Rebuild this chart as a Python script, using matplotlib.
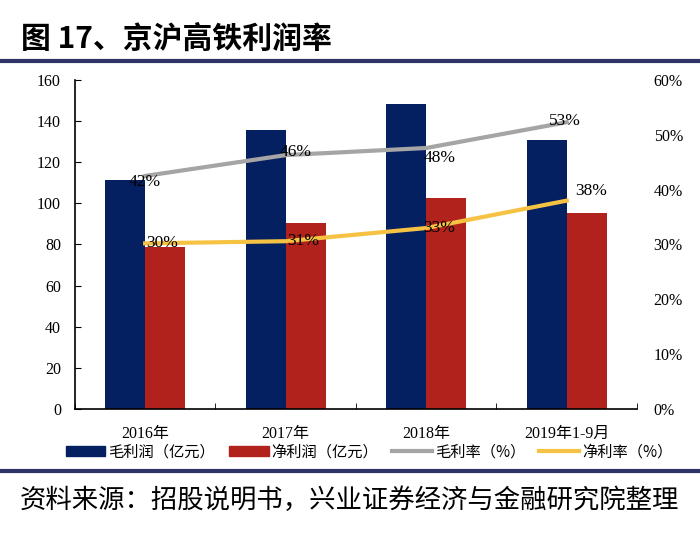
import matplotlib.pyplot as plt
import numpy as np
from matplotlib.patches import Patch
from matplotlib.lines import Line2D

plt.rcParams['font.family'] = ['Liberation Serif', 'Noto Sans CJK SC']

# data
categories = ["2016年", "2017年", "2018年", "2019年1-9月"]
gross_profit = [111.2, 135.8, 148.4, 130.9]   # 毛利润（亿元）
net_profit = [78.8, 90.5, 102.4, 95.2]        # 净利润（亿元）
gross_margin = [42.5, 46.3, 47.6, 52.3]       # 毛利率（%）
net_margin = [30.2, 30.6, 33.0, 38.0]         # 净利率（%）
gross_labels = ["42%", "46%", "48%", "53%"]
net_labels = ["30%", "31%", "33%", "38%"]

blue = "#042060"
red = "#B2221C"
grey = "#A5A5A5"
yellow = "#F6C243"

fig = plt.figure(figsize=(7, 5.38), dpi=100)
ax = fig.add_axes([0.107, 0.2398, 0.803, 0.6115])
ax2 = ax.twinx()

x = np.arange(len(categories))
w = 0.285
ax.bar(x - w / 2, gross_profit, w, color=blue, zorder=2)
ax.bar(x + w / 2, net_profit, w, color=red, zorder=2)

ax.set_xlim(-0.5, 3.5)
ax.set_ylim(0, 160)
ax.set_yticks(range(0, 161, 20))
ax.set_xticks(x)
ax.set_xticklabels(categories, fontsize=11.5)
ax.set_xticks(np.arange(-0.5, 3.6, 1), minor=True)
ax.tick_params(axis='x', which='major', length=0, pad=12)
ax.tick_params(axis='x', which='minor', direction='in', length=4)
ax.tick_params(axis='y', direction='in', length=4, labelsize=11.5, pad=10)
for s in ['top', 'right']:
    ax.spines[s].set_visible(False)
ax.spines['left'].set_linewidth(1.2)
ax.spines['bottom'].set_linewidth(1.2)

ax2.plot(x, gross_margin, color=grey, lw=3, zorder=3)
ax2.plot(x, net_margin, color=yellow, lw=3, zorder=3)
ax2.set_ylim(0, 60)
ax2.set_yticks(range(0, 61, 10))
ax2.set_yticklabels([f"{v}%" for v in range(0, 61, 10)])
ax2.tick_params(axis='y', length=0, labelsize=11.5, pad=12)
for s in ['top', 'right', 'left', 'bottom']:
    ax2.spines[s].set_visible(False)

gross_off = [(0, -6), (10, 3), (13, -10), (-2, 1)]
net_off = [(17, 0), (18, 0), (13, 0), (24, 10)]
for i in range(len(x)):
    ax2.annotate(gross_labels[i], (x[i], gross_margin[i]), xytext=gross_off[i],
                 textcoords='offset pixels', ha='center', va='center', fontsize=12.5, zorder=4)
    ax2.annotate(net_labels[i], (x[i], net_margin[i]), xytext=net_off[i],
                 textcoords='offset pixels', ha='center', va='center', fontsize=12.5, zorder=4)

handles = [Patch(color=blue), Patch(color=red),
           Line2D([], [], color=grey, lw=3), Line2D([], [], color=yellow, lw=3)]
names = ["毛利润（亿元）", "净利润（亿元）", "毛利率（%）", "净利率（%）"]
fig.legend(handles, names, loc='center', bbox_to_anchor=(0.527, 0.16), ncol=4,
           frameon=False, handlelength=2.6, handleheight=0.7,
           handletextpad=0.2, columnspacing=0.9, prop={'family': ['Noto Sans CJK SC'], 'size': 11})

# title and rules
fig.text(0.03, 0.927, "图 17、京沪高铁利润率", fontsize=21.5, fontweight='bold',
         family=['Noto Sans CJK SC'], va='center')
fig.add_artist(Line2D([0, 1], [1 - 60.5 / 538] * 2, color="#2E3366", lw=3))
fig.add_artist(Line2D([0, 1], [1 - 470.5 / 538] * 2, color="#2E3366", lw=3))
fig.text(0.028, 1 - 500 / 538, "资料来源：招股说明书，兴业证券经济与金融研究院整理",
         fontsize=19, family=['Noto Sans CJK SC'], va='center')

fig.savefig("out.png", dpi=100)
